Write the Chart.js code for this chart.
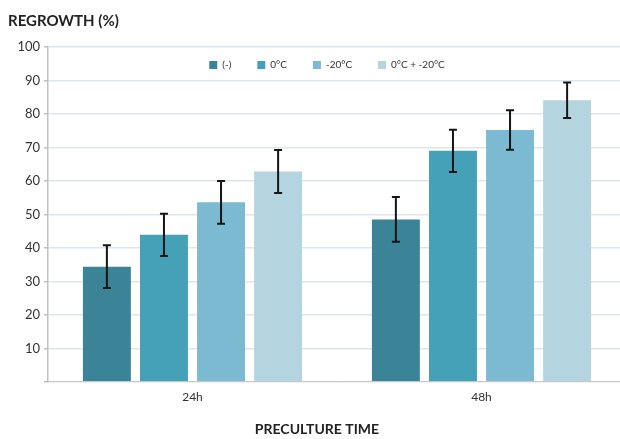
<!DOCTYPE html>
<html>
<head>
<meta charset="utf-8">
<script src="https://cdn.jsdelivr.net/npm/chart.js@4.4.0/dist/chart.umd.min.js"></script>
<style>
  html, body { margin: 0; padding: 0; background: #fff; overflow: hidden; }
  #wrap { width: 626px; height: 439px; }
</style>
</head>
<body>
<div id="wrap"><canvas id="grafico"></canvas></div>
<script>
// datos
var categorias = ["24h", "48h"];
var series = ["(-)", "0°C", "-20°C", "0°C + -20°C"];
var valSinTrat = [34.4, 48.5];
var val0C = [43.9, 69.0];
var valMenos20 = [53.6, 75.2];
var valCombinado = [62.8, 84.1];
var errSinTrat = [6.4, 6.7];
var err0C = [6.3, 6.3];
var errMenos20 = [6.4, 5.9];
var errCombinado = [6.4, 5.3];
var ticksY = [0, 10, 20, 30, 40, 50, 60, 70, 80, 90, 100];

var colores = ["#3b8498", "#44a1b8", "#7bbad0", "#b4d5e0"];
var valores = [valSinTrat, val0C, valMenos20, valCombinado];
var errores = [errSinTrat, err0C, errMenos20, errCombinado];

// barras de error dibujadas con las escalas del grafico
var barrasError = {
    id: "barrasError",
    afterDatasetsDraw: function (chart) {
        var ctx = chart.ctx;
        var y = chart.scales.y;
        ctx.save();
        ctx.strokeStyle = "#151515";
        ctx.lineWidth = 2;
        chart.data.datasets.forEach(function (ds, i) {
            var meta = chart.getDatasetMeta(i);
            meta.data.forEach(function (barra, j) {
                var v = ds.data[j];
                var e = errores[i][j];
                var yArriba = y.getPixelForValue(v + e);
                var yAbajo = y.getPixelForValue(v - e);
                var x = barra.x;
                ctx.beginPath();
                ctx.moveTo(x, yArriba); ctx.lineTo(x, yAbajo);
                ctx.moveTo(x - 4, yArriba); ctx.lineTo(x + 4, yArriba);
                ctx.moveTo(x - 4, yAbajo); ctx.lineTo(x + 4, yAbajo);
                ctx.stroke();
            });
        });
        ctx.restore();
    }
};

// leyenda horizontal dentro del area del grafico
var leyenda = {
    id: "leyenda",
    afterDraw: function (chart) {
        var ctx = chart.ctx;
        var caja = 8, sep = 5, hueco = 26;
        ctx.save();
        ctx.font = "10px Lato";
        ctx.textBaseline = "middle";
        var anchos = chart.data.datasets.map(function (ds) {
            return caja + sep + ctx.measureText(ds.label).width;
        });
        var total = anchos.reduce(function (a, b) { return a + b; }, 0) + hueco * (anchos.length - 1);
        var x = chart.width / 2 + 14 - total / 2;
        var yc = chart.chartArea.top + 18;
        chart.data.datasets.forEach(function (ds, i) {
            ctx.fillStyle = ds.backgroundColor;
            ctx.fillRect(x, yc - caja / 2, caja, caja);
            ctx.fillStyle = "#333";
            ctx.fillText(ds.label, x + caja + sep, yc);
            x += anchos[i] + hueco;
        });
        ctx.restore();
    }
};

var datasets = [];
series.forEach(function (nombre, i) {
    datasets.push({
        label: nombre,
        data: valores[i],
        backgroundColor: colores[i],
        borderWidth: 0,
        categoryPercentage: 0.79,
        barPercentage: 0.84
    });
});

var ctx1 = document.getElementById("grafico").getContext("2d");
var miGrafico = new Chart(ctx1, {
    type: "bar",
    data: {
        labels: categorias,
        datasets: datasets
    },
    plugins: [barrasError, leyenda],
    options: {
        responsive: true,
        maintainAspectRatio: false,
        animation: false,
        layout: { padding: { left: 8, right: 0, top: 8, bottom: 0 } },
        plugins: {
            tooltip: { enabled: false },
            legend: { display: false },
            title: {
                display: true,
                text: "REGROWTH (%)",
                align: "start",
                color: "#222",
                font: { family: "Lato", size: 15, weight: "bold" },
                padding: { top: 4, bottom: 17 }
            },
            subtitle: {
                display: true,
                position: "bottom",
                text: "PRECULTURE TIME",
                color: "#222",
                font: { family: "Lato", size: 14, weight: "bold" },
                padding: { top: 9, bottom: 1 }
            }
        },
        scales: {
            x: {
                grid: { display: false, drawTicks: false },
                border: { color: "#c8c8c8", width: 1 },
                ticks: {
                    color: "#333",
                    padding: 8,
                    font: { family: "Lato", size: 12 }
                }
            },
            y: {
                min: 0,
                max: 100,
                afterFit: function (escala) { escala.width = 40; },
                afterBuildTicks: function (escala) {
                    escala.ticks = ticksY.map(function (v) { return { value: v }; });
                },
                grid: {
                    color: "#dfe5ec",
                    tickColor: "#c0c0c0",
                    tickLength: 4,
                    lineWidth: 1.5
                },
                border: { color: "#c0c0c0", width: 1.5 },
                ticks: {
                    color: "#333",
                    padding: 4,
                    font: { family: "Lato", size: 13 },
                    callback: function (v) { return v === 0 ? "" : v; }
                }
            }
        }
    }
});
</script>
</body>
</html>
